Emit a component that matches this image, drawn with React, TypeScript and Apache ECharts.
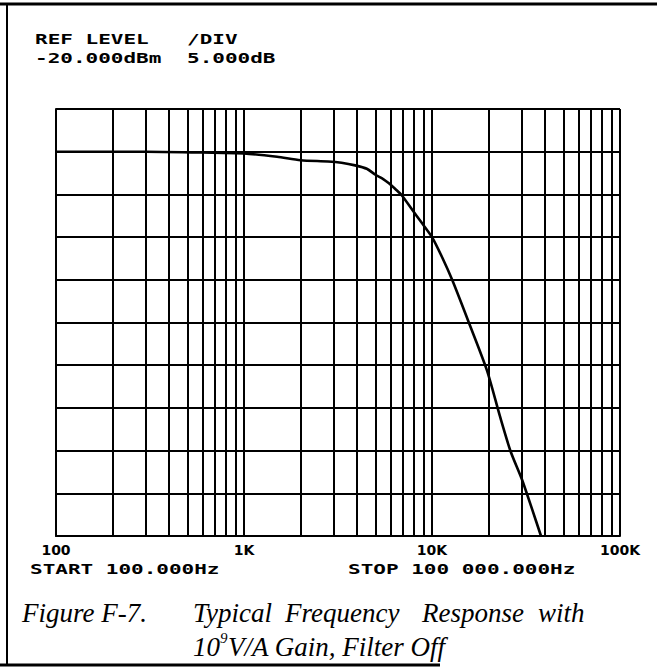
import React, { useEffect, useRef } from "react";
import * as echarts from "echarts";

// Frequency response trace (Hz, dBm)
const freqHz = [100, 300, 600, 1000, 1500, 2000, 2800, 3300, 3900, 4500, 5000, 5500, 5900, 6400, 6900, 7850, 8800, 10000, 11400, 12800, 15700, 19600, 23000, 26200, 30000, 34000, 38000];
const levelDbm = [-25.0, -25.0, -25.1, -25.2, -25.6, -26.0, -26.15, -26.3, -26.6, -27.0, -27.7, -28.2, -28.7, -29.4, -30.1, -31.8, -33.3, -35.0, -37.5, -40.0, -45.0, -50.6, -56.0, -60.1, -63.3, -66.8, -70.0];

// Axis ticks
const xTickValues = [100, 1000, 10000, 100000];
const xTickLabels = ["100", "1K", "10K", "100K"];
const minorMultipliers = [2, 3, 4, 5, 6, 7, 8, 9];
const decades = [100, 1000, 10000];
const yMin = -70;
const yMax = -20;
const yStep = 5;

// Texts
const headerLeft = ["REF LEVEL", "-20.000dBm"];
const headerRight = ["/DIV", "5.000dB"];
const startText = "START 100.000Hz";
const stopText = "STOP 100 000.000Hz";
const captionWords = [
  { t: "Figure F-7.", x: 22 },
  { t: "Typical", x: 193 },
  { t: "Frequency", x: 285 },
  { t: "Response", x: 422 },
  { t: "with", x: 538 },
];
const captionLine2 = ["10", "9", "V/A Gain, Filter Off"];

const MONO = "bold 14px 'DejaVu Sans Mono'";
const SERIF = "italic 27px 'Liberation Serif'";

export default function App() {
  const ref = useRef<HTMLDivElement>(null);
  useEffect(() => {
    if (!ref.current) return;
    const chart = echarts.init(ref.current, null, { renderer: "svg" });
    const minorFreqs: number[] = [];
    decades.forEach((d) => minorMultipliers.forEach((m) => minorFreqs.push(d * m)));

    const monoText = (text: string, x: number, y: number) => ({
      type: "text",
      x,
      y,
      scaleX: 1.5,
      silent: true,
      style: { text, font: MONO, fill: "#000", textAlign: "left", textVerticalAlign: "middle" },
    });
    const serifText = (text: string, x: number, y: number, font = SERIF) => ({
      type: "text",
      x,
      y,
      silent: true,
      style: { text, font, fill: "#000", textAlign: "left", textVerticalAlign: "middle" },
    });

    chart.setOption({
      animation: false,
      backgroundColor: "#fff",
      grid: { left: 56, right: 37, top: 109, bottom: 132, containLabel: false },
      xAxis: {
        type: "log",
        logBase: 10,
        min: 100,
        max: 100000,
        axisLine: { show: true, lineStyle: { color: "#000", width: 2 } },
        axisTick: { show: false },
        splitLine: { show: true, lineStyle: { color: "#000", width: 2 } },
        axisLabel: {
          show: true,
          color: "#000",
          fontFamily: "DejaVu Sans",
          fontWeight: "bold",
          fontSize: 14,
          margin: 7,
          formatter: (v: number) => {
            const i = xTickValues.findIndex((t) => Math.abs(t - v) / t < 1e-6);
            return i >= 0 ? xTickLabels[i] : "";
          },
        },
      },
      yAxis: {
        type: "value",
        min: yMin,
        max: yMax,
        interval: yStep,
        axisLine: { show: true, lineStyle: { color: "#000", width: 2 } },
        axisTick: { show: false },
        axisLabel: { show: false },
        splitLine: { show: true, lineStyle: { color: "#000", width: 2 } },
      },
      series: [
        {
          type: "line",
          data: freqHz.map((f, i) => [f, levelDbm[i]]),
          showSymbol: false,
          smooth: 0.25,
          lineStyle: { color: "#000", width: 2.6 },
          silent: true,
          z: 5,
          markLine: {
            silent: true,
            symbol: ["none", "none"],
            label: { show: false },
            lineStyle: { color: "#000", width: 2, type: "solid" },
            data: minorFreqs.map((f) => ({ xAxis: f })),
            z: 2,
          },
        },
      ],
      graphic: [
        { type: "line", silent: true, shape: { x1: 0, y1: 4, x2: 657, y2: 4 }, style: { stroke: "#000", lineWidth: 3 } },
        { type: "line", silent: true, shape: { x1: 7, y1: 4, x2: 7, y2: 666 }, style: { stroke: "#000", lineWidth: 2 } },
        { type: "line", silent: true, shape: { x1: 0, y1: 665, x2: 440, y2: 665 }, style: { stroke: "#000", lineWidth: 3 } },
        monoText(headerLeft[0], 35, 39),
        monoText(headerLeft[1], 35, 58),
        monoText(headerRight[0], 187, 39),
        monoText(headerRight[1], 187, 58),
        monoText(startText, 30, 569),
        monoText(stopText, 348, 569),
        ...captionWords.map((w) => serifText(w.t, w.x, 613)),
        serifText(captionLine2[0], 193, 647),
        serifText(captionLine2[1], 220, 638, "italic 15px 'Liberation Serif'"),
        serifText(captionLine2[2], 228, 647),
      ],
    });
    return () => chart.dispose();
  }, []);
  return <div ref={ref} style={{ position: "fixed", left: 0, top: 0, width: 657, height: 668 }} />;
}
